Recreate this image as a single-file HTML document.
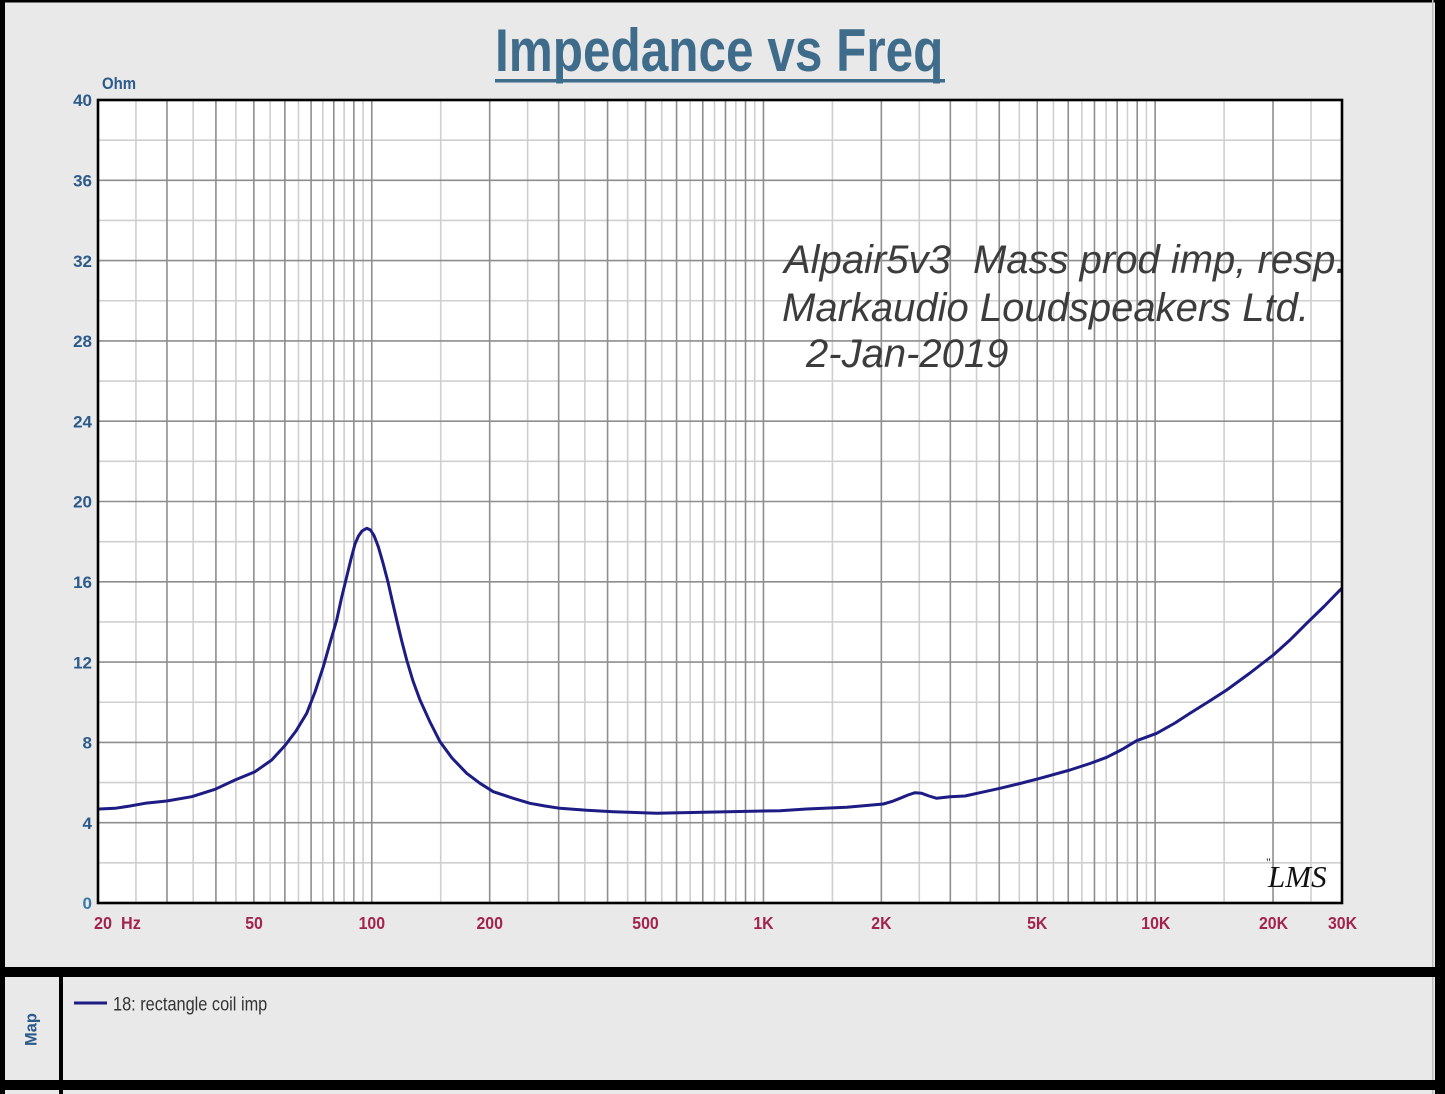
<!DOCTYPE html>
<html><head><meta charset="utf-8"><style>
html,body{margin:0;padding:0;background:#e9e9e9;}
body{width:1445px;height:1094px;overflow:hidden;}
svg{display:block;}
</style></head><body>
<svg width="1445" height="1094" viewBox="0 0 1445 1094" xmlns="http://www.w3.org/2000/svg" font-family="Liberation Sans, Arial, sans-serif">
<rect x="0" y="0" width="1445" height="1094" fill="#e9e9e9"/>
<!-- outer borders -->
<rect x="0" y="0" width="1445" height="2.5" fill="#000"/>
<rect x="0" y="0" width="5" height="1094" fill="#000"/>
<rect x="1435" y="0" width="10" height="1094" fill="#000"/>
<rect x="1432" y="0" width="1.5" height="1094" fill="#bdbdbd"/>
<rect x="0" y="967" width="1445" height="10" fill="#000"/>
<rect x="0" y="1080" width="1445" height="10" fill="#000"/>
<rect x="59" y="977" width="4" height="117" fill="#000"/>

<!-- title -->
<text transform="translate(495,71) scale(0.825,1)" font-size="60" font-weight="bold" fill="#3e6c8a">Impedance vs Freq</text>
<rect x="495" y="79" width="450" height="3.5" fill="#3e6c8a"/>

<!-- plot background -->
<rect x="98" y="100" width="1244" height="803" fill="#fff"/>

<!-- light horizontal grid -->
<g stroke="#cfcfcf" stroke-width="1.6">
<line x1="98" x2="1342" y1="862.85" y2="862.85"/>
<line x1="98" x2="1342" y1="782.55" y2="782.55"/>
<line x1="98" x2="1342" y1="702.25" y2="702.25"/>
<line x1="98" x2="1342" y1="621.95" y2="621.95"/>
<line x1="98" x2="1342" y1="541.65" y2="541.65"/>
<line x1="98" x2="1342" y1="461.35" y2="461.35"/>
<line x1="98" x2="1342" y1="381.05" y2="381.05"/>
<line x1="98" x2="1342" y1="300.75" y2="300.75"/>
<line x1="98" x2="1342" y1="220.45" y2="220.45"/>
<line x1="98" x2="1342" y1="140.15" y2="140.15"/>
</g>
<!-- light vertical grid -->
<g stroke="#cfcfcf" stroke-width="1.6">
<line y1="100" y2="903" x1="135.96" x2="135.96"/>
<line y1="100" y2="903" x1="193.19" x2="193.19"/>
<line y1="100" y2="903" x1="235.94" x2="235.94"/>
<line y1="100" y2="903" x1="270.08" x2="270.08"/>
<line y1="100" y2="903" x1="298.49" x2="298.49"/>
<line y1="100" y2="903" x1="322.84" x2="322.84"/>
<line y1="100" y2="903" x1="344.13" x2="344.13"/>
<line y1="100" y2="903" x1="363.04" x2="363.04"/>
<line y1="100" y2="903" x1="440.74" x2="440.74"/>
<line y1="100" y2="903" x1="527.63" x2="527.63"/>
<line y1="100" y2="903" x1="584.87" x2="584.87"/>
<line y1="100" y2="903" x1="627.62" x2="627.62"/>
<line y1="100" y2="903" x1="661.76" x2="661.76"/>
<line y1="100" y2="903" x1="690.17" x2="690.17"/>
<line y1="100" y2="903" x1="714.51" x2="714.51"/>
<line y1="100" y2="903" x1="735.80" x2="735.80"/>
<line y1="100" y2="903" x1="754.72" x2="754.72"/>
<line y1="100" y2="903" x1="832.42" x2="832.42"/>
<line y1="100" y2="903" x1="919.31" x2="919.31"/>
<line y1="100" y2="903" x1="976.55" x2="976.55"/>
<line y1="100" y2="903" x1="1019.30" x2="1019.30"/>
<line y1="100" y2="903" x1="1053.44" x2="1053.44"/>
<line y1="100" y2="903" x1="1081.85" x2="1081.85"/>
<line y1="100" y2="903" x1="1106.19" x2="1106.19"/>
<line y1="100" y2="903" x1="1127.48" x2="1127.48"/>
<line y1="100" y2="903" x1="1146.40" x2="1146.40"/>
<line y1="100" y2="903" x1="1224.10" x2="1224.10"/>
<line y1="100" y2="903" x1="1310.99" x2="1310.99"/>
</g>
<!-- dark horizontal grid -->
<g stroke="#8e8e8e" stroke-width="1.6">
<line x1="98" x2="1342" y1="822.7" y2="822.7"/>
<line x1="98" x2="1342" y1="742.4" y2="742.4"/>
<line x1="98" x2="1342" y1="662.1" y2="662.1"/>
<line x1="98" x2="1342" y1="581.8" y2="581.8"/>
<line x1="98" x2="1342" y1="501.5" y2="501.5"/>
<line x1="98" x2="1342" y1="421.2" y2="421.2"/>
<line x1="98" x2="1342" y1="340.9" y2="340.9"/>
<line x1="98" x2="1342" y1="260.6" y2="260.6"/>
<line x1="98" x2="1342" y1="180.3" y2="180.3"/>
</g>
<!-- dark vertical grid -->
<g stroke="#8e8e8e" stroke-width="1.6">
<line y1="100" y2="903" x1="166.97" x2="166.97"/>
<line y1="100" y2="903" x1="215.91" x2="215.91"/>
<line y1="100" y2="903" x1="253.86" x2="253.86"/>
<line y1="100" y2="903" x1="284.88" x2="284.88"/>
<line y1="100" y2="903" x1="311.10" x2="311.10"/>
<line y1="100" y2="903" x1="333.81" x2="333.81"/>
<line y1="100" y2="903" x1="353.85" x2="353.85"/>
<line y1="100" y2="903" x1="371.77" x2="371.77"/>
<line y1="100" y2="903" x1="489.68" x2="489.68"/>
<line y1="100" y2="903" x1="558.65" x2="558.65"/>
<line y1="100" y2="903" x1="607.58" x2="607.58"/>
<line y1="100" y2="903" x1="645.54" x2="645.54"/>
<line y1="100" y2="903" x1="676.56" x2="676.56"/>
<line y1="100" y2="903" x1="702.77" x2="702.77"/>
<line y1="100" y2="903" x1="725.49" x2="725.49"/>
<line y1="100" y2="903" x1="745.52" x2="745.52"/>
<line y1="100" y2="903" x1="763.45" x2="763.45"/>
<line y1="100" y2="903" x1="881.36" x2="881.36"/>
<line y1="100" y2="903" x1="950.33" x2="950.33"/>
<line y1="100" y2="903" x1="999.26" x2="999.26"/>
<line y1="100" y2="903" x1="1037.22" x2="1037.22"/>
<line y1="100" y2="903" x1="1068.24" x2="1068.24"/>
<line y1="100" y2="903" x1="1094.45" x2="1094.45"/>
<line y1="100" y2="903" x1="1117.17" x2="1117.17"/>
<line y1="100" y2="903" x1="1137.20" x2="1137.20"/>
<line y1="100" y2="903" x1="1155.13" x2="1155.13"/>
<line y1="100" y2="903" x1="1273.04" x2="1273.04"/>
</g>

<!-- annotation -->
<g font-style="italic" font-size="40" fill="#3c3c3c">
<text x="784" y="273">Alpair5v3&#160;&#160;Mass prod imp, resp.</text>
<text x="782" y="321">Markaudio Loudspeakers Ltd.</text>
<text x="806" y="367">2-Jan-2019</text>
</g>

<!-- LMS signature -->
<text x="1266" y="866" font-size="12" fill="#111" font-family="Liberation Serif, serif">"</text>
<text x="1268" y="887" font-size="31" font-style="italic" fill="#111" font-family="Liberation Serif, serif">LMS</text>

<!-- curve -->
<polyline fill="none" stroke="#1c1c84" stroke-width="3" stroke-linejoin="round" stroke-linecap="round" points="
99,809 115,808.3 130,806 145,803.3 166.7,801 191.7,796.7 215,789.3 235,780 255,771.7 271.7,760 285,745.5 296,731 306.7,713.3 315,692 323.3,666.7 330,643 336.7,620 341.5,598 346.7,576.7 351,559 355,544 358.5,536 362,531 366.7,528.3 370.5,530 374,535.5 378.3,546.7 383,563 388.3,583.3 392.5,602 396.7,620 401.5,640 406.7,660 413,681 420,700 430,722 440,741.7 452,758 466.7,773.3 480,783.3 493.3,791.7 513.3,798.3 530,803.3 545,806 560,808.3 586.7,810.3 613.3,811.7 656.7,813.3 703.3,812.3 740,811.5 780,810.7 806.7,809 846.7,807.3 883.3,804 892,801.5 900,798.3 908,795 915,792.7 921.7,793.3 929,796 936.7,798.3 950,796.7 965,796 980,792.7 1000,788.3 1020,783.5 1040,778.3 1070,770 1090,763.5 1106.7,757.3 1122,749.5 1136.7,740.7 1156.7,733.3 1175,723 1190,713.3 1208,702 1226.7,690 1250,673 1273.3,655 1290,640 1306.7,623.3 1324,606.5 1341,589"/>

<!-- plot frame -->
<rect x="98" y="100" width="1244" height="803" fill="none" stroke="#000" stroke-width="2.6"/>

<!-- y labels -->
<g font-size="17" font-weight="bold" fill="#2c5b8a" text-anchor="end">
<text x="92" y="106">40</text>
<text x="92" y="186.5">36</text>
<text x="92" y="266.8">32</text>
<text x="92" y="347">28</text>
<text x="92" y="427.4">24</text>
<text x="92" y="507.7">20</text>
<text x="92" y="588">16</text>
<text x="92" y="668.3">12</text>
<text x="92" y="748.6">8</text>
<text x="92" y="828.9">4</text>
<text x="92" y="909" fill="#3a78a8">0</text>
</g>
<text transform="translate(102,89) scale(0.88,1)" font-size="17" font-weight="bold" fill="#2c5b8a">Ohm</text>

<!-- x labels -->
<g font-size="18" font-weight="bold" fill="#a3234f" text-anchor="middle">
<text transform="translate(94,929) scale(0.9,1)" text-anchor="start">20&#160;&#160;Hz</text>
<text transform="translate(254,929) scale(0.88,1)">50</text>
<text transform="translate(371.8,929) scale(0.88,1)">100</text>
<text transform="translate(489.7,929) scale(0.88,1)">200</text>
<text transform="translate(645.5,929) scale(0.88,1)">500</text>
<text transform="translate(763.5,929) scale(0.88,1)">1K</text>
<text transform="translate(881.4,929) scale(0.88,1)">2K</text>
<text transform="translate(1037.2,929) scale(0.88,1)">5K</text>
<text transform="translate(1155.8,929) scale(0.88,1)">10K</text>
<text transform="translate(1273.5,929) scale(0.88,1)">20K</text>
<text transform="translate(1342.5,929) scale(0.88,1)">30K</text>
</g>

<!-- legend panel -->
<text transform="translate(36.5,1029.5) rotate(-90)" text-anchor="middle" font-size="16.5" font-weight="bold" fill="#2c5b8a">Map</text>
<line x1="74" x2="107" y1="1003" y2="1003" stroke="#1c1c84" stroke-width="3"/>
<text transform="translate(113,1010.5) scale(0.86,1)" font-size="19" fill="#333">18: rectangle coil imp</text>
</svg>
</body></html>
